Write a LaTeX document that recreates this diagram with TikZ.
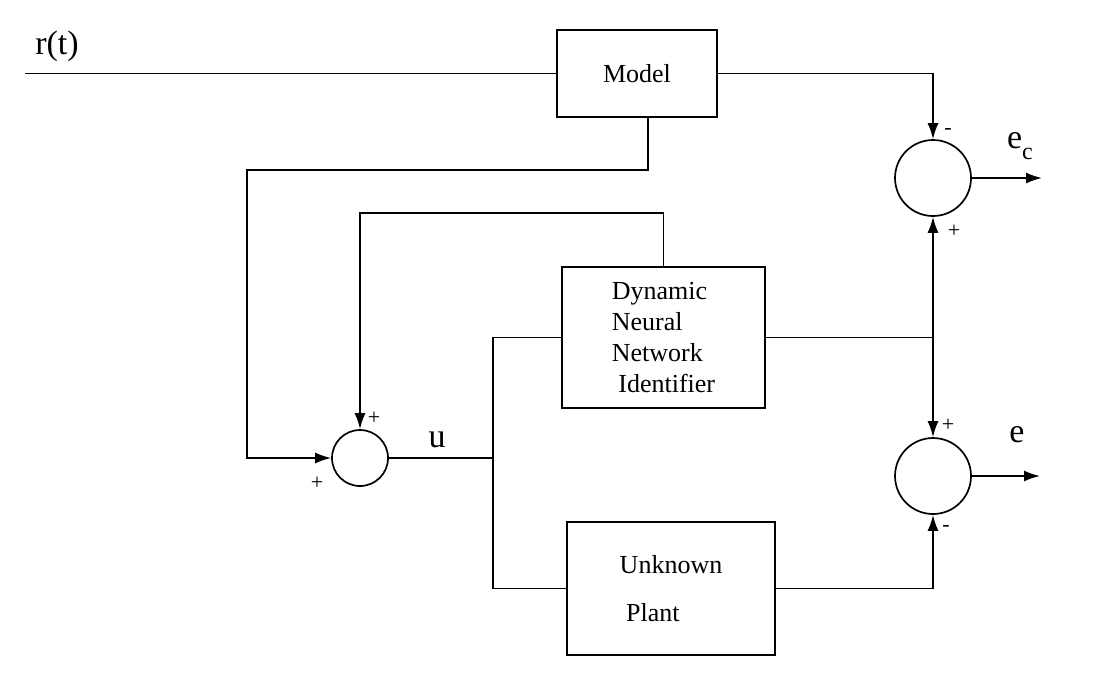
\documentclass[tikz,border=0pt]{standalone}
\usepackage{fontspec}
\setmainfont{Liberation Serif}
\usetikzlibrary{arrows.meta,calc}
\begin{document}
\begin{tikzpicture}[x=0.5pt,y=-0.5pt,
  line width=0.85pt,
  arr/.style={-{Latex[length=8pt,width=5.5pt]}},
  blk/.style={draw,rectangle,inner sep=0pt,font=\fontsize{13}{16}\selectfont,align=left},
  sumj/.style={draw,circle,inner sep=0pt},
  sgn/.style={font=\fontsize{11}{11}\selectfont,inner sep=0pt},
  lbl/.style={font=\fontsize{17}{19}\selectfont,inner sep=0pt}]
\useasboundingbox (0,0) rectangle (1101,676);
% blocks
\node[blk,minimum width=80pt,minimum height=43.5pt] (model) at (637,73.5) {Model};
\node[blk,minimum width=101.5pt,minimum height=70.5pt,font=\fontsize{13}{15.5}\selectfont] (ident) at (663.5,337.5) {Dynamic\\Neural\\Network\\\ Identifier};
\node[blk,minimum width=104pt,minimum height=66.5pt,font=\fontsize{13}{24}\selectfont] (plant) at (671,588.5) {Unknown\\\ Plant};
% summing junctions
\node[sumj,minimum size=28pt] (s1) at (360,458) {};
\node[sumj,minimum size=38pt] (sc) at (933,178) {};
\node[sumj,minimum size=38pt] (se) at (933,476) {};
% coordinates
\coordinate (rin) at (25,73.5);
\coordinate (mo) at (648,117);
\coordinate (k1) at (247,170);
\coordinate (k2) at (360,213);
\coordinate (j) at (493,458);
\coordinate (ocout) at (1042,178);
\coordinate (oeout) at (1040,476);
% connectors
\draw (rin) -- (model.west);
\draw[arr] (model.east) -| (sc.north);
\draw[arr] (mo) |- (k1) |- (s1.west);
\draw[arr] (ident.north) |- (k2) -- (s1.north);
\draw (s1.east) -- (j);
\draw (ident.west) -| (j) |- (plant.west);
\draw (ident.east) -- (ident.east -| sc) coordinate (j2);
\draw[arr] (j2) -- (sc.south);
\draw[arr] (j2) -- (se.north);
\draw[arr] (plant.east) -| (se.south);
\draw[arr] (sc.east) -- (ocout);
\draw[arr] (se.east) -- (oeout);
% labels
\node[lbl] (lr) at (57,46) {r(t)};
\node[lbl] (lu) at (437,440) {u};
\node[lbl] (lec) at (1020,146) {e\raisebox{-0.7ex}{\fontsize{12}{12}\selectfont c}};
\node[lbl] (le) at (1017,435) {e};
\node[sgn] (p1) at (374,418) {+};
\node[sgn] (p2) at (317,483) {+};
\node[sgn] (p3) at (948,131) {-};
\node[sgn] (p4) at (954,231) {+};
\node[sgn] (p5) at (948,425) {+};
\node[sgn] (p6) at (946,528) {-};
\end{tikzpicture}
\end{document}
